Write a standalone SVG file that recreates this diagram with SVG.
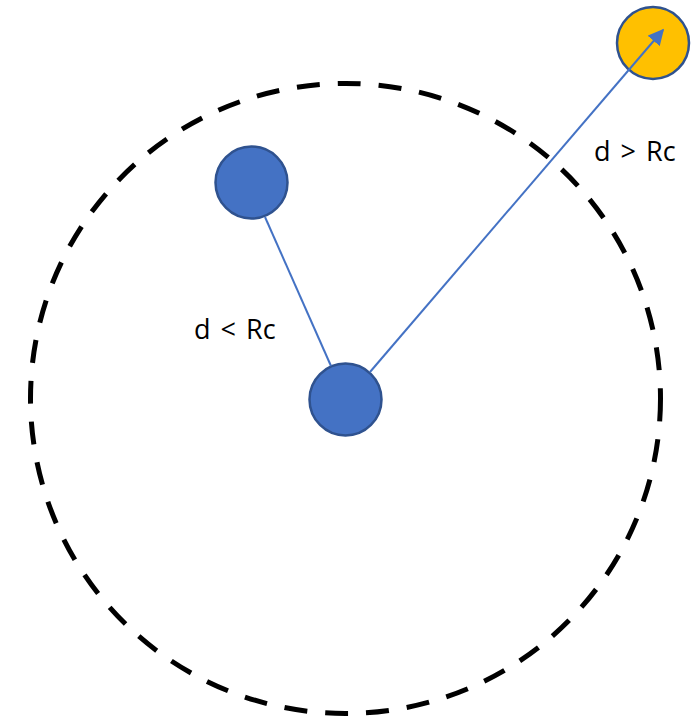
<svg xmlns="http://www.w3.org/2000/svg" width="694" height="721" viewBox="0 0 694 721">
<style>
.node{fill:#4472c4;stroke:#2f528f;stroke-width:2.5}
.yel{fill:#ffc000;stroke:#2f528f;stroke-width:2.5}
.edge{stroke:#4472c4;stroke-width:2;fill:none}
.lbl{font-family:"Open Sans","Liberation Sans",sans-serif;font-size:27px;word-spacing:3px;fill:#000}
</style>
<defs>
<marker id="arr" viewBox="0 0 10 10" refX="9" refY="5" markerWidth="8" markerHeight="8" orient="auto" markerUnits="strokeWidth">
<path d="M0,0 L10,5 L0,10 z" fill="#4472c4"/>
</marker>
</defs>
<g id="range">
<circle cx="345.5" cy="398.5" r="315" fill="none" stroke="#000" stroke-width="5" stroke-dasharray="23 18"/>
</g>
<g id="node-near">
<circle class="node" cx="251.5" cy="182.5" r="36"/>
</g>
<g id="node-center">
<circle class="node" cx="345.5" cy="399.5" r="36"/>
</g>
<g id="node-far">
<circle class="yel" cx="653" cy="43" r="36"/>
</g>
<g id="connectors">
<line class="edge" x1="265" y1="217" x2="331" y2="366"/>
<line class="edge" x1="370" y1="372" x2="663" y2="30" marker-end="url(#arr)"/>
</g>
<g id="labels">
<text class="lbl" x="194" y="339">d &lt; Rc</text>
<text class="lbl" x="594" y="161">d &gt; Rc</text>
</g>
</svg>
